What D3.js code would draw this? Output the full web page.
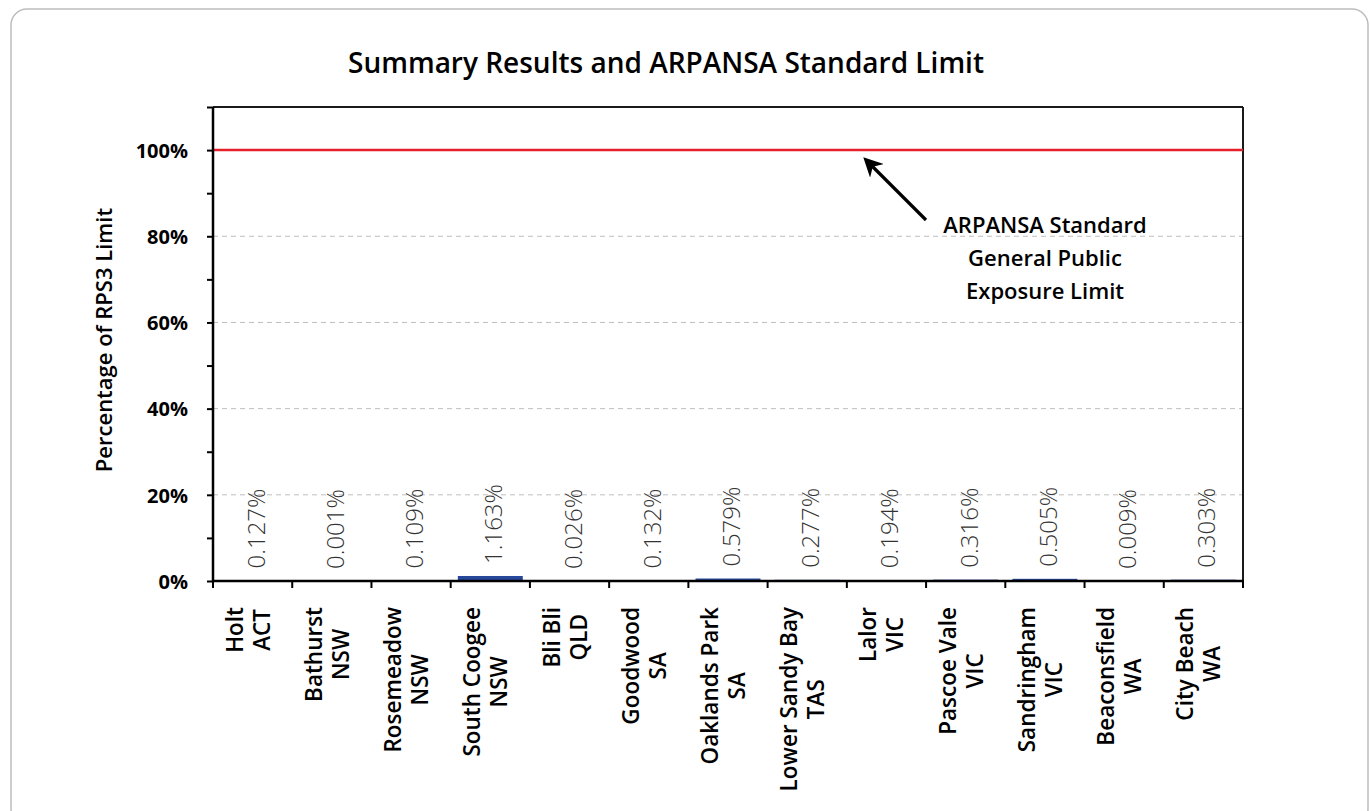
<!DOCTYPE html>
<html>
<head>
<meta charset="utf-8">
<script src="https://cdn.jsdelivr.net/npm/d3@7"></script>
<style>
  html, body { margin: 0; padding: 0; background: #fff; }
  svg { display: block; }
  text { font-family: "Open Sans", "DejaVu Sans", sans-serif; }
</style>
</head>
<body>
<svg id="chart" width="1370" height="811"></svg>
<script>
// ---- Data ----
const sites  = ["Holt", "Bathurst", "Rosemeadow", "South Coogee", "Bli Bli", "Goodwood", "Oaklands Park", "Lower Sandy Bay", "Lalor", "Pascoe Vale", "Sandringham", "Beaconsfield", "City Beach"];
const states = ["ACT", "NSW", "NSW", "NSW", "QLD", "SA", "SA", "TAS", "VIC", "VIC", "VIC", "WA", "WA"];
const values = [0.127, 0.001, 0.109, 1.163, 0.026, 0.132, 0.579, 0.277, 0.194, 0.316, 0.505, 0.009, 0.303]; // percent of limit
const yTickValues = [0, 20, 40, 60, 80, 100];
const limitValue = 100;
const titleText = "Summary Results and ARPANSA Standard Limit";
const yTitleText = "Percentage of RPS3 Limit";
const noteLines = ["ARPANSA Standard", "General Public", "Exposure Limit"];

// ---- Layout ----
const svg = d3.select("#chart");
const pLeft = 213, pRight = 1243, pTop = 107, pBottom = 581;

// outer rounded frame
svg.append("rect")
  .attr("x", 11).attr("y", 9).attr("width", 1357).attr("height", 816)
  .attr("rx", 16).attr("ry", 16)
  .attr("fill", "#fff").attr("stroke", "#bdbdbd").attr("stroke-width", 1.5);

const x = d3.scaleBand().domain(sites).range([pLeft, pRight]).paddingInner(0.18).paddingOuter(0.09);
const y = d3.scaleLinear().domain([0, 110]).range([pBottom, pTop]);
const step = x.step();

// gridlines (dashed)
svg.append("g").selectAll("line")
  .data(yTickValues.filter(v => v > 0 && v < 100))
  .join("line")
  .attr("x1", pLeft).attr("x2", pRight)
  .attr("y1", d => y(d)).attr("y2", d => y(d))
  .attr("stroke", "#bfbfbf").attr("stroke-width", 1).attr("stroke-dasharray", "5,4");

// plot frame top/right
svg.append("line").attr("x1", pLeft).attr("x2", pRight).attr("y1", pTop).attr("y2", pTop)
  .attr("stroke", "#1a1a1a").attr("stroke-width", 2);
svg.append("line").attr("x1", pRight).attr("x2", pRight).attr("y1", pTop).attr("y2", pBottom)
  .attr("stroke", "#1a1a1a").attr("stroke-width", 2);

// bars
svg.append("g").selectAll("rect")
  .data(values)
  .join("rect")
  .attr("x", (d, i) => x(sites[i]))
  .attr("width", x.bandwidth())
  .attr("y", d => y(d))
  .attr("height", d => y(0) - y(d))
  .attr("fill", "#27489a");

// limit line
svg.append("line")
  .attr("x1", pLeft).attr("x2", pRight)
  .attr("y1", y(limitValue)).attr("y2", y(limitValue))
  .attr("stroke", "#e5202a").attr("stroke-width", 2.5);

// y axis
const yAxis = d3.axisLeft(y)
  .tickValues(d3.range(0, 111, 10))
  .tickSize(6)
  .tickFormat(d => yTickValues.includes(d) ? d + "%" : "");
const gy = svg.append("g").attr("transform", `translate(${pLeft},0)`).call(yAxis);
gy.select(".domain").attr("stroke", "#000").attr("stroke-width", 2.5).attr("d", `M0,${pTop}V${pBottom}`);
gy.selectAll(".tick line").attr("stroke", "#000").attr("stroke-width", 2);
gy.selectAll(".tick text")
  .attr("x", -25).attr("dy", "0.36em")
  .attr("fill", "#000").style("font-size", "20px").style("font-weight", 700)
  .style("font-family", '"Open Sans", sans-serif');

// x axis baseline and boundary ticks
svg.append("line").attr("x1", pLeft - 1).attr("x2", pRight + 1).attr("y1", pBottom).attr("y2", pBottom)
  .attr("stroke", "#000").attr("stroke-width", 2.5);
const boundaries = d3.range(sites.length + 1).map(i => pLeft + i * step);
svg.append("g").selectAll("line").data(boundaries).join("line")
  .attr("x1", d => d).attr("x2", d => d)
  .attr("y1", pBottom).attr("y2", pBottom + 7)
  .attr("stroke", "#000").attr("stroke-width", 2);

// category labels (two centred lines, rotated, block starting just below the axis)
const catG = svg.append("g");
sites.forEach((s, i) => {
  const cx = x(s) + x.bandwidth() / 2;
  const t = catG.append("text")
    .attr("text-anchor", "middle")
    .style("font-size", "22.5px").style("font-weight", 600).attr("fill", "#000");
  const l1 = t.append("tspan").attr("x", 0).attr("y", -10).text(s);
  const l2 = t.append("tspan").attr("x", 0).attr("y", 17).text(states[i]);
  const w = Math.max(l1.node().getComputedTextLength(), l2.node().getComputedTextLength());
  t.attr("transform", `translate(${cx},${607 + w / 2}) rotate(-90)`);
});

// value labels (rotated)
svg.append("g").selectAll("text")
  .data(values)
  .join("text")
  .attr("transform", (d, i) => `translate(${x(sites[i]) + x.bandwidth() / 2 + 12},${y(d) - 12}) rotate(-90)`)
  .attr("text-anchor", "start")
  .style("font-size", "24px").style("font-weight", 300).attr("fill", "#333")
  .text(d => d.toFixed(3) + "%");

// y title
svg.append("text")
  .attr("transform", `translate(112,340) rotate(-90)`)
  .attr("text-anchor", "middle")
  .style("font-size", "22px").style("font-weight", 600).attr("fill", "#000")
  .text(yTitleText);

// title
svg.append("text")
  .attr("x", 666).attr("y", 73)
  .attr("text-anchor", "middle")
  .style("font-size", "28px").style("font-weight", 600).attr("fill", "#000")
  .text(titleText);

// annotation arrow
const defs = svg.append("defs");
defs.append("marker")
  .attr("id", "arrowhead").attr("viewBox", "0 0 10 10")
  .attr("refX", 8).attr("refY", 5)
  .attr("markerWidth", 6).attr("markerHeight", 6)
  .attr("markerUnits", "strokeWidth")
  .attr("orient", "auto")
  .append("path").attr("d", "M0,0 L10,5 L0,10 L3,5 Z").attr("fill", "#000");
svg.append("line")
  .attr("x1", 926).attr("y1", 220).attr("x2", 866).attr("y2", 160)
  .attr("stroke", "#000").attr("stroke-width", 3.2)
  .attr("marker-end", "url(#arrowhead)");

// annotation text
svg.append("g").selectAll("text")
  .data(noteLines).join("text")
  .attr("x", 1045).attr("y", (d, i) => 233 + i * 33)
  .attr("text-anchor", "middle")
  .style("font-size", "22px").style("font-weight", 600).attr("fill", "#000")
  .text(d => d);
</script>
</body>
</html>
